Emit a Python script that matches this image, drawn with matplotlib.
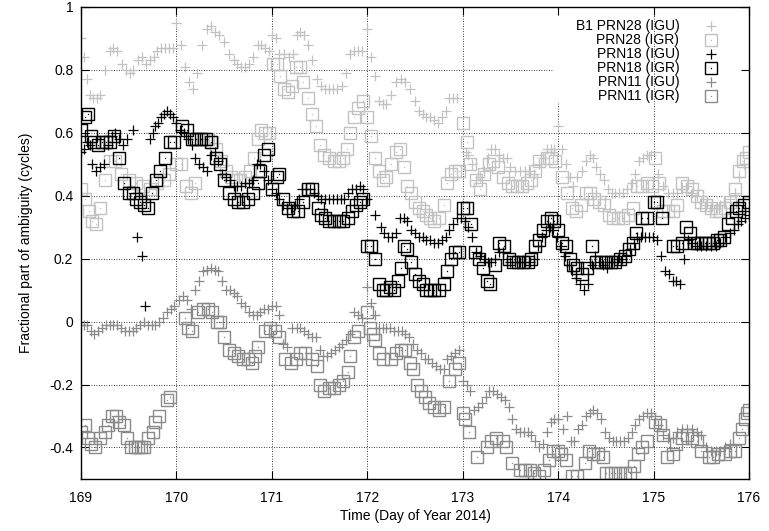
import matplotlib.pyplot as plt
from matplotlib.legend_handler import HandlerTuple
from matplotlib.ticker import FuncFormatter

plt.rcParams["font.family"] = ["Liberation Sans", "DejaVu Sans"]
plt.rcParams["axes.unicode_minus"] = False

# (day of year 2014, fractional part of ambiguity in cycles)
prn28_igu = [
    (169.00, 0.90), (169.03, 0.84), (169.06, 0.77), (169.09, 0.72), (169.13, 0.71), (169.17, 0.71),
    (169.20, 0.72), (169.25, 0.80), (169.30, 0.86), (169.34, 0.87), (169.38, 0.86), (169.43, 0.82),
    (169.47, 0.80), (169.51, 0.79), (169.55, 0.80), (169.60, 0.83), (169.64, 0.84), (169.68, 0.82),
    (169.72, 0.83), (169.76, 0.84), (169.80, 0.86), (169.84, 0.87), (169.88, 0.87), (169.92, 0.87),
    (169.96, 0.87), (170.00, 0.95), (170.05, 0.88), (170.09, 0.81), (170.13, 0.76), (170.17, 0.74),
    (170.22, 0.79), (170.27, 0.88), (170.32, 0.93), (170.36, 0.94), (170.40, 0.92), (170.45, 0.91),
    (170.50, 0.89), (170.55, 0.85), (170.60, 0.83), (170.64, 0.82), (170.68, 0.81), (170.72, 0.81),
    (170.76, 0.82), (170.80, 0.84), (170.85, 0.88), (170.89, 0.88), (170.93, 0.87), (170.97, 0.86),
    (171.00, 0.91), (171.04, 0.90), (171.08, 0.85), (171.13, 0.85), (171.18, 0.84), (171.22, 0.85),
    (171.26, 0.91), (171.30, 0.92), (171.34, 0.91), (171.38, 0.88), (171.42, 0.83), (171.47, 0.77),
    (171.52, 0.75), (171.56, 0.74), (171.60, 0.74), (171.64, 0.74), (171.68, 0.74), (171.73, 0.75),
    (171.78, 0.79), (171.82, 0.85), (171.86, 0.86), (171.90, 0.86), (171.94, 0.86), (172.00, 0.93),
    (172.04, 0.84), (172.08, 0.78), (172.12, 0.70), (172.16, 0.69), (172.20, 0.69), (172.25, 0.72),
    (172.30, 0.76), (172.35, 0.77), (172.40, 0.76), (172.45, 0.74), (172.50, 0.70), (172.54, 0.67),
    (172.58, 0.66), (172.62, 0.65), (172.66, 0.65), (172.70, 0.64), (172.74, 0.63), (172.78, 0.65),
    (172.82, 0.67), (172.86, 0.71), (172.90, 0.71), (172.94, 0.71), (173.03, 0.54), (173.06, 0.53),
    (173.10, 0.50), (173.14, 0.45), (173.18, 0.46), (173.22, 0.48), (173.26, 0.52), (173.30, 0.55),
    (173.34, 0.55), (173.38, 0.53), (173.42, 0.52), (173.46, 0.52), (173.50, 0.49), (173.55, 0.48),
    (173.60, 0.48), (173.65, 0.48), (173.70, 0.48), (173.75, 0.47), (173.80, 0.50), (173.84, 0.52),
    (173.88, 0.55), (173.92, 0.55), (173.96, 0.55), (174.00, 0.62), (174.04, 0.55), (174.08, 0.50),
    (174.12, 0.46), (174.16, 0.43), (174.20, 0.46), (174.25, 0.48), (174.29, 0.51), (174.33, 0.53),
    (174.37, 0.52), (174.40, 0.49), (174.44, 0.47), (174.48, 0.45), (174.52, 0.42), (174.56, 0.41),
    (174.60, 0.41), (174.64, 0.41), (174.68, 0.41), (174.72, 0.42), (174.77, 0.44), (174.81, 0.47),
    (174.85, 0.51), (174.89, 0.52), (174.93, 0.53), (174.97, 0.53), (175.05, 0.47), (175.10, 0.43),
    (175.15, 0.41), (175.20, 0.41), (175.25, 0.41), (175.30, 0.42), (175.35, 0.43), (175.40, 0.41),
    (175.45, 0.40), (175.50, 0.38), (175.55, 0.37), (175.60, 0.36), (175.65, 0.36), (175.70, 0.37),
    (175.75, 0.38), (175.80, 0.39), (175.85, 0.41), (175.90, 0.46), (175.95, 0.50), (176.00, 0.52),
]

prn28_igr = [
    (169.00, 0.42), (169.04, 0.39), (169.08, 0.35), (169.12, 0.32), (169.16, 0.31), (169.20, 0.36),
    (169.25, 0.45), (169.30, 0.51), (169.36, 0.51), (169.42, 0.47), (169.50, 0.45), (169.58, 0.44),
    (169.65, 0.43), (169.72, 0.42), (169.80, 0.44), (169.87, 0.45), (169.92, 0.47), (170.00, 0.50),
    (170.05, 0.50), (170.10, 0.43), (170.15, 0.41), (170.19, 0.44), (170.23, 0.58), (170.28, 0.58),
    (170.33, 0.58), (170.37, 0.57), (170.42, 0.55), (170.47, 0.51), (170.52, 0.48), (170.57, 0.46),
    (170.62, 0.45), (170.67, 0.45), (170.72, 0.46), (170.77, 0.48), (170.81, 0.52), (170.85, 0.58),
    (170.89, 0.61), (170.93, 0.60), (170.97, 0.60), (171.01, 0.82), (171.05, 0.82), (171.09, 0.78),
    (171.13, 0.74), (171.17, 0.73), (171.21, 0.75), (171.25, 0.81), (171.29, 0.81), (171.33, 0.76),
    (171.38, 0.71), (171.42, 0.66), (171.46, 0.62), (171.50, 0.56), (171.55, 0.53), (171.60, 0.52),
    (171.65, 0.51), (171.70, 0.51), (171.75, 0.52), (171.79, 0.55), (171.82, 0.60), (171.86, 0.65),
    (171.90, 0.68), (171.95, 0.70), (172.00, 0.65), (172.04, 0.59), (172.08, 0.52), (172.12, 0.48),
    (172.16, 0.45), (172.20, 0.46), (172.25, 0.50), (172.30, 0.54), (172.34, 0.55), (172.38, 0.49),
    (172.42, 0.43), (172.46, 0.41), (172.50, 0.38), (172.54, 0.36), (172.58, 0.35), (172.62, 0.34),
    (172.66, 0.33), (172.70, 0.32), (172.75, 0.33), (172.80, 0.37), (172.84, 0.44), (172.88, 0.47),
    (172.92, 0.48), (172.96, 0.48), (173.00, 0.63), (173.04, 0.57), (173.08, 0.50), (173.14, 0.45),
    (173.18, 0.42), (173.22, 0.47), (173.28, 0.50), (173.32, 0.51), (173.37, 0.49), (173.42, 0.46),
    (173.47, 0.44), (173.52, 0.43), (173.57, 0.43), (173.62, 0.43), (173.67, 0.44), (173.72, 0.45),
    (173.76, 0.48), (173.80, 0.51), (173.88, 0.52), (173.93, 0.52), (173.97, 0.51), (174.04, 0.46),
    (174.09, 0.41), (174.14, 0.36), (174.19, 0.35), (174.24, 0.37), (174.29, 0.41), (174.33, 0.41),
    (174.38, 0.39), (174.43, 0.38), (174.48, 0.37), (174.53, 0.34), (174.58, 0.33), (174.63, 0.33),
    (174.68, 0.33), (174.73, 0.34), (174.78, 0.36), (174.83, 0.43), (174.88, 0.43), (174.93, 0.44),
    (174.98, 0.43), (175.02, 0.52), (175.06, 0.44), (175.10, 0.35), (175.15, 0.35), (175.20, 0.35),
    (175.25, 0.37), (175.30, 0.44), (175.35, 0.43), (175.40, 0.42), (175.45, 0.40), (175.50, 0.38),
    (175.55, 0.37), (175.60, 0.36), (175.65, 0.35), (175.70, 0.35), (175.75, 0.36), (175.80, 0.38),
    (175.85, 0.42), (175.90, 0.48), (175.94, 0.51), (175.97, 0.52), (176.00, 0.54),
]

prn18_igu = [
    (169.00, 0.54), (169.03, 0.55), (169.06, 0.57), (169.09, 0.56), (169.12, 0.50), (169.16, 0.48),
    (169.20, 0.49), (169.24, 0.50), (169.28, 0.56), (169.32, 0.59), (169.36, 0.60), (169.40, 0.58),
    (169.44, 0.56), (169.48, 0.58), (169.55, 0.61), (169.59, 0.27), (169.64, 0.21), (169.67, 0.05),
    (169.72, 0.58), (169.75, 0.60), (169.78, 0.62), (169.81, 0.63), (169.84, 0.65), (169.87, 0.66),
    (169.90, 0.67), (169.93, 0.66), (169.96, 0.65), (170.00, 0.63), (170.04, 0.61), (170.08, 0.60),
    (170.12, 0.58), (170.16, 0.56), (170.20, 0.52), (170.24, 0.50), (170.28, 0.49), (170.32, 0.48),
    (170.36, 0.53), (170.40, 0.54), (170.44, 0.51), (170.48, 0.47), (170.52, 0.46), (170.56, 0.45),
    (170.60, 0.43), (170.64, 0.43), (170.68, 0.43), (170.72, 0.44), (170.76, 0.44), (170.80, 0.45),
    (170.84, 0.50), (170.88, 0.50), (170.92, 0.48), (170.96, 0.45), (171.00, 0.42), (171.04, 0.41),
    (171.08, 0.39), (171.12, 0.37), (171.16, 0.36), (171.20, 0.36), (171.24, 0.37), (171.28, 0.39),
    (171.32, 0.42), (171.36, 0.42), (171.40, 0.42), (171.44, 0.41), (171.48, 0.40), (171.52, 0.39),
    (171.56, 0.39), (171.60, 0.39), (171.64, 0.39), (171.68, 0.39), (171.72, 0.39), (171.76, 0.39),
    (171.80, 0.41), (171.84, 0.42), (171.88, 0.42), (171.92, 0.43), (171.96, 0.42), (172.00, 0.39),
    (172.08, 0.34), (172.14, 0.30), (172.18, 0.28), (172.22, 0.27), (172.26, 0.27), (172.30, 0.28),
    (172.34, 0.33), (172.38, 0.33), (172.42, 0.32), (172.46, 0.29), (172.50, 0.28), (172.54, 0.27),
    (172.58, 0.27), (172.62, 0.26), (172.66, 0.26), (172.70, 0.25), (172.74, 0.25), (172.78, 0.26),
    (172.82, 0.27), (172.86, 0.29), (172.90, 0.31), (172.94, 0.33), (172.98, 0.33), (173.02, 0.32),
    (173.06, 0.30), (173.10, 0.27), (173.14, 0.22), (173.18, 0.21), (173.22, 0.20), (173.26, 0.19),
    (173.30, 0.19), (173.34, 0.20), (173.38, 0.22), (173.42, 0.22), (173.46, 0.20), (173.50, 0.19),
    (173.55, 0.19), (173.60, 0.19), (173.65, 0.19), (173.70, 0.19), (173.75, 0.20), (173.79, 0.24),
    (173.83, 0.27), (173.87, 0.29), (173.91, 0.30), (173.95, 0.29), (173.99, 0.27), (174.03, 0.24),
    (174.07, 0.21), (174.11, 0.18), (174.15, 0.16), (174.19, 0.14), (174.23, 0.12), (174.27, 0.10),
    (174.31, 0.12), (174.35, 0.18), (174.39, 0.21), (174.43, 0.19), (174.47, 0.18), (174.51, 0.17),
    (174.55, 0.19), (174.59, 0.19), (174.63, 0.20), (174.67, 0.20), (174.71, 0.21), (174.75, 0.23),
    (174.79, 0.25), (174.83, 0.27), (174.87, 0.27), (174.91, 0.27), (174.95, 0.27), (174.99, 0.27),
    (175.04, 0.26), (175.08, 0.21), (175.12, 0.16), (175.16, 0.15), (175.20, 0.13), (175.24, 0.13),
    (175.28, 0.12), (175.32, 0.20), (175.36, 0.26), (175.40, 0.25), (175.45, 0.24), (175.50, 0.24),
    (175.55, 0.24), (175.60, 0.24), (175.65, 0.24), (175.70, 0.25), (175.75, 0.27), (175.80, 0.28),
    (175.84, 0.29), (175.88, 0.31), (175.92, 0.32), (175.96, 0.33), (176.00, 0.34),
]

prn18_igr = [
    (169.00, 0.61), (169.04, 0.65), (169.07, 0.66), (169.10, 0.59), (169.14, 0.57), (169.18, 0.56),
    (169.22, 0.57), (169.26, 0.57), (169.30, 0.57), (169.35, 0.59), (169.40, 0.52), (169.45, 0.44),
    (169.50, 0.41), (169.54, 0.41), (169.58, 0.39), (169.62, 0.38), (169.66, 0.37), (169.70, 0.36),
    (169.74, 0.41), (169.79, 0.45), (169.83, 0.48), (169.88, 0.52), (169.93, 0.57), (169.98, 0.57),
    (170.06, 0.62), (170.11, 0.61), (170.16, 0.58), (170.21, 0.58), (170.26, 0.58), (170.31, 0.58),
    (170.36, 0.57), (170.41, 0.52), (170.46, 0.50), (170.50, 0.45), (170.55, 0.41), (170.60, 0.39),
    (170.65, 0.38), (170.70, 0.38), (170.75, 0.39), (170.80, 0.41), (170.85, 0.44), (170.88, 0.48),
    (170.92, 0.53), (170.96, 0.55), (171.00, 0.42), (171.05, 0.46), (171.08, 0.47), (171.12, 0.39),
    (171.17, 0.36), (171.22, 0.35), (171.27, 0.35), (171.33, 0.38), (171.38, 0.42), (171.42, 0.42),
    (171.48, 0.36), (171.52, 0.34), (171.56, 0.33), (171.60, 0.32), (171.65, 0.32), (171.70, 0.32),
    (171.75, 0.32), (171.80, 0.33), (171.84, 0.35), (171.88, 0.37), (171.92, 0.38), (171.96, 0.39),
    (172.00, 0.24), (172.04, 0.24), (172.08, 0.20), (172.12, 0.12), (172.16, 0.10), (172.20, 0.10),
    (172.24, 0.11), (172.28, 0.10), (172.32, 0.13), (172.35, 0.17), (172.38, 0.24), (172.42, 0.23),
    (172.46, 0.19), (172.50, 0.15), (172.54, 0.13), (172.58, 0.12), (172.62, 0.10), (172.66, 0.10),
    (172.70, 0.10), (172.75, 0.10), (172.80, 0.12), (172.84, 0.16), (172.88, 0.20), (172.92, 0.22),
    (172.96, 0.22), (173.00, 0.36), (173.04, 0.36), (173.09, 0.31), (173.13, 0.22), (173.17, 0.20),
    (173.21, 0.17), (173.25, 0.13), (173.29, 0.12), (173.34, 0.18), (173.38, 0.25), (173.43, 0.24),
    (173.48, 0.20), (173.53, 0.19), (173.58, 0.19), (173.63, 0.19), (173.68, 0.19), (173.72, 0.20),
    (173.76, 0.24), (173.80, 0.26), (173.84, 0.29), (173.88, 0.32), (173.92, 0.33), (173.96, 0.32),
    (174.00, 0.29), (174.04, 0.25), (174.08, 0.24), (174.12, 0.20), (174.16, 0.18), (174.20, 0.17),
    (174.25, 0.15), (174.30, 0.17), (174.36, 0.24), (174.40, 0.19), (174.45, 0.19), (174.50, 0.19),
    (174.55, 0.19), (174.60, 0.19), (174.65, 0.20), (174.70, 0.21), (174.74, 0.23), (174.78, 0.25),
    (174.82, 0.28), (174.88, 0.33), (174.93, 0.33), (175.00, 0.38), (175.04, 0.38), (175.09, 0.33),
    (175.20, 0.24), (175.25, 0.24), (175.30, 0.25), (175.34, 0.30), (175.38, 0.28), (175.42, 0.25),
    (175.46, 0.25), (175.50, 0.25), (175.54, 0.25), (175.58, 0.25), (175.62, 0.25), (175.66, 0.26),
    (175.70, 0.26), (175.74, 0.27), (175.78, 0.31), (175.82, 0.33), (175.86, 0.35), (175.90, 0.36),
    (175.95, 0.37), (176.00, 0.38),
]

prn11_igu = [
    (169.00, -0.01), (169.03, -0.01), (169.06, -0.01), (169.10, -0.03), (169.14, -0.04), (169.18, -0.03),
    (169.22, -0.02), (169.26, -0.01), (169.30, -0.01), (169.34, -0.01), (169.38, -0.01), (169.42, -0.02),
    (169.46, -0.03), (169.50, -0.03), (169.54, -0.03), (169.58, -0.02), (169.62, -0.01), (169.66, 0.00),
    (169.70, -0.01), (169.74, -0.01), (169.78, -0.01), (169.82, 0.00), (169.86, 0.01), (169.90, 0.03),
    (169.94, 0.04), (169.98, 0.05), (170.03, 0.07), (170.07, 0.08), (170.11, 0.07), (170.15, 0.04),
    (170.20, 0.10), (170.24, 0.13), (170.28, 0.16), (170.32, 0.165), (170.36, 0.17), (170.40, 0.165),
    (170.44, 0.16), (170.48, 0.13), (170.52, 0.10), (170.56, 0.10), (170.60, 0.09), (170.64, 0.08),
    (170.68, 0.06), (170.72, 0.05), (170.76, 0.03), (170.80, 0.02), (170.84, 0.02), (170.88, 0.03),
    (170.92, 0.04), (170.96, 0.04), (171.00, 0.05), (171.04, 0.05), (171.08, 0.02), (171.12, -0.07),
    (171.16, -0.08), (171.21, -0.02), (171.26, -0.02), (171.30, -0.02), (171.34, -0.03), (171.38, -0.04),
    (171.42, -0.05), (171.46, -0.05), (171.50, -0.09), (171.54, -0.11), (171.58, -0.11), (171.62, -0.10),
    (171.66, -0.09), (171.70, -0.08), (171.74, -0.07), (171.78, -0.06), (171.82, -0.04), (171.86, 0.03),
    (171.90, 0.02), (171.94, 0.01), (172.00, 0.11), (172.04, 0.06), (172.08, 0.02), (172.12, -0.02),
    (172.16, -0.02), (172.20, -0.02), (172.24, -0.02), (172.28, -0.03), (172.32, -0.03), (172.36, -0.03),
    (172.40, -0.04), (172.44, -0.05), (172.48, -0.07), (172.52, -0.09), (172.56, -0.10), (172.60, -0.12),
    (172.64, -0.12), (172.68, -0.13), (172.72, -0.14), (172.76, -0.15), (172.80, -0.15), (172.84, -0.12),
    (172.88, -0.11), (172.92, -0.10), (172.96, -0.09), (173.00, -0.19), (173.04, -0.20), (173.08, -0.22),
    (173.12, -0.28), (173.16, -0.27), (173.20, -0.26), (173.24, -0.24), (173.28, -0.22), (173.32, -0.22),
    (173.36, -0.23), (173.40, -0.24), (173.44, -0.25), (173.48, -0.27), (173.52, -0.31), (173.56, -0.34),
    (173.60, -0.35), (173.64, -0.35), (173.68, -0.35), (173.72, -0.36), (173.76, -0.38), (173.80, -0.40),
    (173.84, -0.39), (173.88, -0.35), (173.92, -0.32), (173.96, -0.31), (174.00, -0.31), (174.05, -0.34),
    (174.09, -0.30), (174.13, -0.38), (174.17, -0.38), (174.21, -0.34), (174.25, -0.33), (174.29, -0.30),
    (174.33, -0.29), (174.37, -0.28), (174.41, -0.29), (174.45, -0.31), (174.49, -0.35), (174.53, -0.37),
    (174.57, -0.38), (174.61, -0.38), (174.65, -0.38), (174.69, -0.38), (174.73, -0.37), (174.77, -0.35),
    (174.81, -0.33), (174.85, -0.31), (174.89, -0.30), (174.93, -0.29), (174.97, -0.29), (175.01, -0.31),
    (175.05, -0.33), (175.10, -0.36), (175.15, -0.37), (175.20, -0.37), (175.25, -0.35), (175.30, -0.34),
    (175.35, -0.34), (175.40, -0.34), (175.45, -0.35), (175.50, -0.36), (175.55, -0.40), (175.60, -0.41),
    (175.65, -0.41), (175.70, -0.41), (175.75, -0.40), (175.80, -0.39),
]

prn11_igr = [
    (169.00, -0.35), (169.04, -0.33), (169.07, -0.37), (169.10, -0.39), (169.15, -0.40), (169.20, -0.37),
    (169.25, -0.35), (169.28, -0.33), (169.32, -0.30), (169.37, -0.30), (169.40, -0.32), (169.45, -0.33),
    (169.48, -0.37), (169.52, -0.40), (169.57, -0.40), (169.60, -0.40), (169.63, -0.40), (169.66, -0.40),
    (169.70, -0.37), (169.75, -0.35), (169.78, -0.32), (169.82, -0.30), (169.90, -0.25), (169.93, -0.24),
    (170.09, 0.01), (170.12, -0.02), (170.16, -0.03), (170.23, 0.03), (170.28, 0.04), (170.33, 0.04),
    (170.37, 0.03), (170.43, 0.00), (170.46, 0.00), (170.50, -0.05), (170.55, -0.09), (170.60, -0.10),
    (170.65, -0.11), (170.70, -0.12), (170.75, -0.12), (170.79, -0.13), (170.82, -0.11), (170.86, -0.08),
    (170.93, -0.03), (170.98, -0.02), (171.03, -0.03), (171.08, -0.05), (171.14, -0.12), (171.20, -0.13),
    (171.25, -0.12), (171.30, -0.10), (171.35, -0.10), (171.42, -0.12), (171.47, -0.14), (171.50, -0.20),
    (171.55, -0.22), (171.60, -0.21), (171.65, -0.21), (171.70, -0.20), (171.75, -0.19), (171.80, -0.16),
    (171.82, -0.11), (171.86, -0.05), (171.90, -0.03), (172.00, 0.03), (172.03, -0.02), (172.06, -0.04),
    (172.08, -0.06), (172.12, -0.10), (172.16, -0.12), (172.25, -0.12), (172.30, -0.10), (172.35, -0.09),
    (172.40, -0.09), (172.45, -0.13), (172.48, -0.15), (172.52, -0.20), (172.56, -0.22), (172.60, -0.24),
    (172.65, -0.26), (172.70, -0.27), (172.75, -0.28), (172.80, -0.27), (172.86, -0.19), (172.92, -0.15),
    (172.96, -0.13), (173.00, -0.29), (173.02, -0.31), (173.07, -0.35), (173.15, -0.43), (173.25, -0.40),
    (173.30, -0.38), (173.35, -0.37), (173.42, -0.38), (173.45, -0.40), (173.52, -0.45), (173.60, -0.47),
    (173.65, -0.47), (173.70, -0.47), (173.75, -0.48), (173.80, -0.49), (173.85, -0.47), (173.90, -0.44),
    (173.95, -0.41), (174.00, -0.41), (174.03, -0.42), (174.08, -0.44), (174.15, -0.49), (174.20, -0.49),
    (174.28, -0.45), (174.32, -0.41), (174.37, -0.42), (174.42, -0.42), (174.47, -0.43), (174.50, -0.48),
    (174.55, -0.48), (174.60, -0.48), (174.65, -0.48), (174.70, -0.48), (174.75, -0.48), (174.80, -0.46),
    (174.84, -0.42), (174.88, -0.40), (174.93, -0.38), (175.02, -0.32), (175.07, -0.33), (175.10, -0.36),
    (175.14, -0.43), (175.20, -0.42), (175.23, -0.39), (175.30, -0.37), (175.35, -0.36), (175.40, -0.37),
    (175.45, -0.38), (175.50, -0.41), (175.58, -0.43), (175.62, -0.43), (175.68, -0.42), (175.75, -0.42),
    (175.80, -0.41), (175.85, -0.41), (175.90, -0.37), (175.93, -0.34), (175.96, -0.31), (175.98, -0.29),
    (176.00, -0.28),
]

x_ticks = [169, 170, 171, 172, 173, 174, 175, 176]
y_ticks = [-0.4, -0.2, 0.0, 0.2, 0.4, 0.6, 0.8, 1.0]

light = "#c2c2c2"
mid = "#8a8a8a"
dark = "#000000"

series = [
    ("B1 PRN28 (IGU)", prn28_igu, "+", light),
    ("PRN28 (IGR)", prn28_igr, "s", light),
    ("PRN18 (IGU)", prn18_igu, "+", dark),
    ("PRN18 (IGR)", prn18_igr, "s", dark),
    ("PRN11 (IGU)", prn11_igu, "+", mid),
    ("PRN11 (IGR)", prn11_igr, "s", mid),
]

fig = plt.figure(figsize=(7.69, 5.31), dpi=100)
ax = fig.add_axes([0.1053, 0.098, 0.8687, 0.889])

# gnuplot-style dotted grid; the key hides part of it in the top right
grid_kw = dict(color="black", lw=0.6, ls=(0, (1, 2)), zorder=0)
for x in x_ticks[1:-1]:
    ax.axvline(x, ymax=0.797 if x == 174 else 1.0, **grid_kw)
for y in y_ticks[:-1]:
    ax.axhline(y, xmax=0.707 if y == 0.8 else 1.0, **grid_kw)

handles = []
for label, pts, marker, color in series:
    t = [p[0] for p in pts]
    v = [p[1] for p in pts]
    if marker == "+":
        h, = ax.plot(t, v, ls="none", marker="+", ms=7.5, mew=0.9, color=color)
        handles.append(h)
    else:
        h, = ax.plot(t, v, ls="none", marker="s", ms=8.3, mfc="none", mec=color, mew=1.0)
        d, = ax.plot(t, v, ls="none", marker="s", ms=0.9, mew=0, color=color)
        handles.append((h, d))

ax.set_xlim(169, 176)
ax.set_ylim(-0.5, 1.0)
ax.set_xticks(x_ticks)
ax.set_yticks(y_ticks)
ax.yaxis.set_major_formatter(FuncFormatter(lambda v, _: f"{v:g}"))
ax.tick_params(direction="in", length=6, width=0.8, top=True, right=True, labelsize=10)
ax.tick_params(axis="y", pad=5.5)
ax.tick_params(axis="x", pad=8.5)
for spine in ax.spines.values():
    spine.set_linewidth(1.0)

ax.set_xlabel("Time (Day of Year 2014)", fontsize=10)
ax.set_ylabel("Fractional part of ambiguity (cycles)", fontsize=10)
ax.xaxis.set_label_coords(0.5, -0.064)
ax.yaxis.set_label_coords(-0.072, 0.5)

ax.legend(
    handles,
    [s[0] for s in series],
    loc="upper right",
    bbox_to_anchor=(0.981, 1.0),
    frameon=False,
    markerfirst=False,
    fontsize=10,
    handlelength=1.8,
    handletextpad=1.4,
    labelspacing=0.0,
    borderpad=0.4,
    handler_map={tuple: HandlerTuple(ndivide=1, pad=0)},
)

fig.savefig("out.png", dpi=100)
